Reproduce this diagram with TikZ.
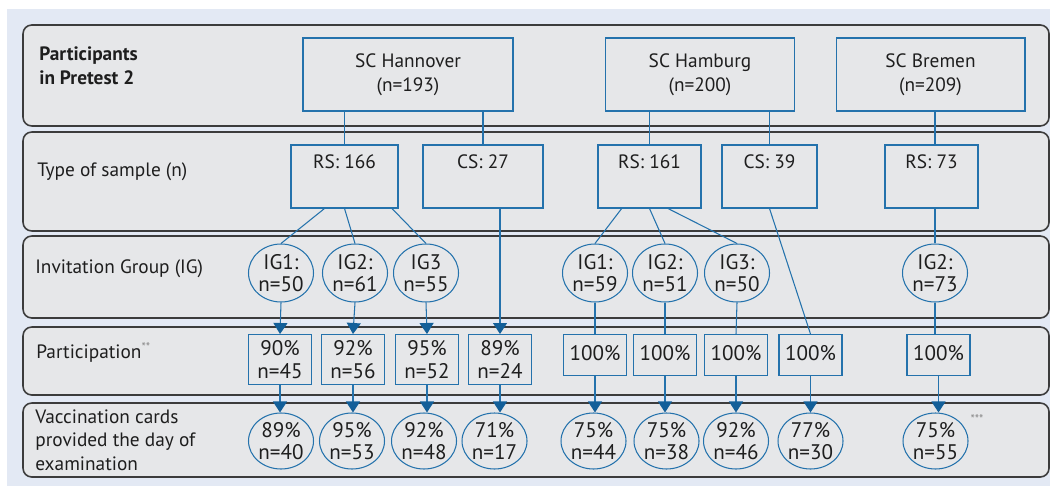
\documentclass[tikz,border=0pt]{standalone}
\usepackage{fontspec}
\setmainfont{PT Sans}
\usetikzlibrary{positioning, arrows.meta, shapes.geometric}
\definecolor{bgFill}{HTML}{E3E9F4}
\definecolor{rowFill}{HTML}{E6E7E9}
\definecolor{rowDraw}{HTML}{3C3C3C}
\definecolor{bluDraw}{HTML}{2472AC}
\definecolor{bluTip}{HTML}{135F99}
\definecolor{txt}{HTML}{1E1E1E}
\definecolor{gry}{HTML}{8A8A8A}

\begin{document}
\begin{tikzpicture}[
  x=0.02cm, y=-0.02cm,
  font=\fontsize{11}{13.5}\selectfont, text=txt,
  row/.style={draw=rowDraw, fill=rowFill, line width=0.9pt, rounded corners=5pt},
  lbl/.style={anchor=west, align=left, inner sep=0pt},
  site/.style={rectangle, draw=bluDraw, line width=0.6pt, align=center, minimum height=1.46cm},
  smp/.style={rectangle, draw=bluDraw, line width=0.6pt, inner xsep=2pt, inner ysep=0.16cm,
              text height=0.3cm, text depth=0.64cm},
  grp/.style={ellipse, draw=bluDraw, line width=0.6pt, align=center, inner sep=0pt,
              minimum width=1.3cm, minimum height=1.16cm, font=\fontsize{12}{12.8}\selectfont},
  pct/.style={rectangle, draw=bluDraw, line width=0.6pt, align=center, inner sep=0pt,
              minimum width=1.26cm, anchor=north, font=\fontsize{12}{12.8}\selectfont},
  vac/.style={grp, minimum height=1.12cm},
  lnk/.style={draw=bluDraw, line width=0.6pt},
  arr/.style={lnk, -{Triangle[length=0.22cm, width=0.28cm, color=bluTip]}},
]
\useasboundingbox (0,0) rectangle (1050,486);
\fill[bgFill] (7,9) rectangle (1050,486);

% ---- Row panels ----
\foreach \t/\b in {25/126, 132/231, 236/318, 327/395, 403/477}{ \draw[row] (23,\t) rectangle (1049,\b); }

% ---- Row labels ----
\node[lbl] (lPart) at (39,66) {\textbf{Participants}\\\textbf{in Pretest 2}};
\node[lbl] (lType) at (37,172) {Type of sample (n)};
\node[lbl] (lInv)  at (35,269) {Invitation Group (IG)};
\node[lbl] (lPar)  at (36,353) {Participation\textsuperscript{\textcolor{gry}{\scriptsize**}}};
\node[lbl] (lVac)  at (35,440) {Vaccination cards\\provided the day of\\examination};

% ---- Study centres ----
\node[site, minimum width=4.2cm]  (hann) at (408,74.5)   {SC Hannover\\(n=193)};
\node[site, minimum width=3.78cm] (hamb) at (700,74.5)   {SC Hamburg\\(n=200)};
\node[site, minimum width=3.78cm] (brem) at (930.5,74.5) {SC Bremen\\(n=209)};

% ---- Type of sample ----
\node[smp, minimum width=2.14cm] (hRS) at (344.5,176.5) {RS: 166};
\node[smp, minimum width=2.4cm]  (hCS) at (483,176.5)   {CS: 27};
\node[smp, minimum width=2.06cm] (mRS) at (649.5,176.5) {RS: 161};
\node[smp, minimum width=1.9cm]  (mCS) at (769.5,176.5) {CS: 39};
\node[smp, minimum width=1.86cm] (bRS) at (931.5,176.5) {RS: 73};

% ---- Invitation groups ----
\node[grp] (hIG1) at (281,273) {IG1:\\n=50};
\node[grp] (hIG2) at (355,273) {IG2:\\n=61};
\node[grp] (hIG3) at (426,273) {IG3\\n=55};
\node[grp] (mIG1) at (595,273) {IG1:\\n=59};
\node[grp] (mIG2) at (665,273) {IG2:\\n=51};
\node[grp] (mIG3) at (737,273) {IG3:\\n=50};
\node[grp] (bIG2) at (935,273) {IG2:\\n=73};

% ---- Participation ----
\node[pct, minimum height=1cm] (hP1) at (280,334) {90\%\\n=45};
\node[pct, minimum height=1cm] (hP2) at (353,334) {92\%\\n=56};
\node[pct, minimum height=1cm] (hP3) at (427,334) {95\%\\n=52};
\node[pct, minimum height=1cm] (hP4) at (500,334) {89\%\\n=24};
\node[pct, minimum height=0.82cm, text depth=0.1cm] (mP1) at (595,334)   {100\%};
\node[pct, minimum height=0.82cm, text depth=0.1cm] (mP2) at (665,334)   {100\%};
\node[pct, minimum height=0.82cm, text depth=0.1cm] (mP3) at (736,334)   {100\%};
\node[pct, minimum height=0.82cm, text depth=0.1cm] (mP4) at (810.5,334) {100\%};
\node[pct, minimum height=0.82cm, text depth=0.1cm] (bP)  at (938.5,334) {100\%};

% ---- Vaccination cards ----
\node[vac] (hV1) at (281,441)   {89\%\\n=40};
\node[vac] (hV2) at (352,441)   {95\%\\n=53};
\node[vac] (hV3) at (424,441)   {92\%\\n=48};
\node[vac] (hV4) at (494.5,441) {71\%\\n=17};
\node[vac] (mV1) at (593.5,441) {75\%\\n=44};
\node[vac] (mV2) at (666.5,441) {75\%\\n=38};
\node[vac] (mV3) at (736,441)   {92\%\\n=46};
\node[vac] (mV4) at (810.5,441) {77\%\\n=30};
\node[vac] (bV)  at (935.5,441) {75\%\\n=55};
\node[font=\scriptsize, text=gry, inner sep=0pt] (bNote) at (977,419) {***};

% ---- Connectors ----
\draw[lnk] (hRS.north |- hann.south) -- (hRS.north);
\draw[lnk] (hCS.north |- hann.south) -- (hCS.north);
\draw[lnk] (mRS.north |- hamb.south) -- (mRS.north);
\draw[lnk] (mCS.north |- hamb.south) -- (mCS.north);
\draw[lnk] (bIG2.north |- brem.south) -- (bIG2.north |- bRS.north);

\draw[lnk] (hRS.238) -- (hIG1.north);
\draw[lnk] (hRS.south) -- (hIG2.north);
\draw[lnk] (hRS.326) -- (hIG3.north);
\draw[lnk] (mRS.229) -- (mIG1.north);
\draw[lnk] (mRS.south) -- (mIG2.north);
\draw[lnk] (mRS.300) -- (mIG3.north);
\draw[lnk] (bIG2.north |- bRS.south) -- (bIG2.north);
\draw[lnk] (mCS.south) -- (mP4.north);
\draw[arr] (hP4.north |- hCS.south) -- (hP4.north);

\foreach \i in {1,2,3}{ \draw[arr] (hIG\i.south) -- (hP\i.north); }
\foreach \i in {1,2,3}{ \draw[lnk] (mIG\i.south) -- (mP\i.north); }
\draw[lnk] (bIG2.south) -- (bIG2.south |- bP.north);

\foreach \a/\b in {hP1/hV1, hP2/hV2, hP3/hV3, hP4/hV4, mP1/mV1, mP2/mV2, mP3/mV3, mP4/mV4, bP/bV}{
  \draw[arr] (\a.south) -- (\a.south |- \b.north);
}
\end{tikzpicture}
\end{document}
